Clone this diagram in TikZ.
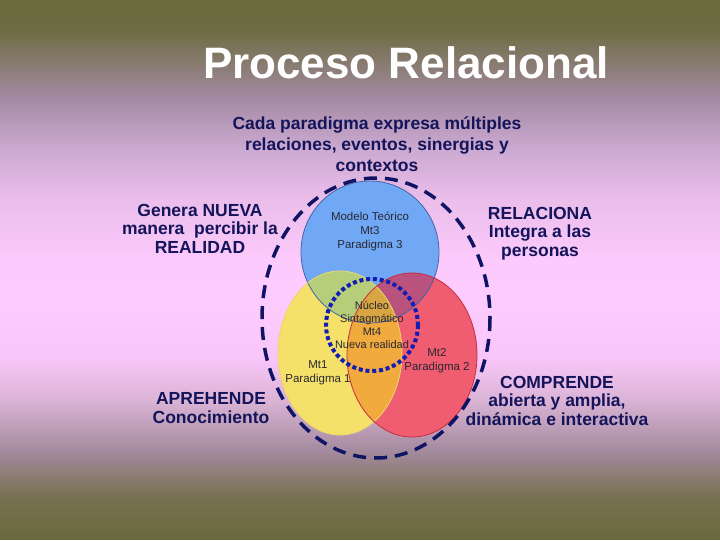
\documentclass[tikz,border=0pt]{standalone}
\usepackage{fontspec}
\setmainfont{Liberation Sans}
\definecolor{navytext}{RGB}{20,20,90}
\definecolor{venntext}{RGB}{40,40,50}
\definecolor{cblue}{RGB}{112,168,245}
\definecolor{cyellow}{RGB}{245,225,105}
\definecolor{cred}{RGB}{240,92,112}
\definecolor{cgreen}{RGB}{182,205,122}
\definecolor{cpurple}{RGB}{185,82,125}
\definecolor{corange}{RGB}{240,170,62}
\definecolor{ccenter}{RGB}{215,165,65}
\definecolor{lblue}{RGB}{70,100,165}
\definecolor{lyellow}{RGB}{235,215,110}
\definecolor{lred}{RGB}{200,45,65}
\definecolor{dotblue}{RGB}{20,30,180}
\definecolor{dashnavy}{RGB}{15,20,100}
\tikzset{
  titletext/.style={text=white,font=\fontsize{44}{48}\selectfont\bfseries,inner sep=0pt},
  outertext/.style={text=navytext,font=\fontsize{17.5}{18.5}\selectfont\bfseries,align=center,inner sep=0pt},
  subtext/.style={text=navytext,font=\fontsize{17.5}{21}\selectfont\bfseries,align=center,inner sep=0pt},
  venn/.style={text=venntext,font=\fontsize{11.5}{14}\selectfont,align=center,inner sep=0pt},
  vennsmall/.style={text=venntext,font=\fontsize{11}{12.8}\selectfont,align=center,inner sep=0pt},
}
\begin{document}
\begin{tikzpicture}[x=1pt,y=-1pt]
% background gradient (piecewise linear, in strips)
\foreach \ya/\ra/\ga/\ba/\yb/\rb/\gb/\bb in {
  0/107/107/62/30/110/108/66,
  30/110/108/66/100/165/140/165,
  100/165/140/165/150/205/170/210,
  150/205/170/210/200/235/190/235,
  200/235/190/235/260/252/202/252,
  260/252/202/252/300/255/204/255,
  300/255/204/255/360/248/198/248,
  360/248/198/248/400/220/180/215,
  400/220/180/215/450/165/140/160,
  450/165/140/160/500/118/112/78,
  500/118/112/78/540/107/107/62}{
  \pgfmathtruncatemacro{\nst}{(\yb-\ya)/2-1}
  \foreach \k in {0,...,\nst}{
    \pgfmathsetmacro{\tt}{(\k*2+1)/(\yb-\ya)}
    \pgfmathtruncatemacro{\colR}{\ra+(\rb-\ra)*\tt}
    \pgfmathtruncatemacro{\colG}{\ga+(\gb-\ga)*\tt}
    \pgfmathtruncatemacro{\colB}{\ba+(\bb-\ba)*\tt}
    \definecolor{bgstrip}{RGB}{\colR,\colG,\colB}
    \fill[bgstrip] (0,\ya+\k*2) rectangle (720,\ya+\k*2+2.4);
  }
}
\useasboundingbox (0,0) rectangle (720,540);
% base fills
\fill[cblue] (370,252) ellipse [x radius=69, y radius=71];
\fill[cyellow] (340,353) ellipse [x radius=62, y radius=82];
\fill[cred] (412,355) ellipse [x radius=65, y radius=82];
% overlaps
\begin{scope}
  \clip (340,353) ellipse [x radius=62, y radius=82];
  \fill[cgreen] (370,252) ellipse [x radius=69, y radius=71];
\end{scope}
\begin{scope}
  \clip (412,355) ellipse [x radius=65, y radius=82];
  \fill[cpurple] (370,252) ellipse [x radius=69, y radius=71];
\end{scope}
\begin{scope}
  \clip (340,353) ellipse [x radius=62, y radius=82];
  \clip (412,355) ellipse [x radius=65, y radius=82];
  \fill[corange] (250,250) rectangle (500,450);
  \clip (370,252) ellipse [x radius=69, y radius=71];
  \fill[ccenter] (250,150) rectangle (500,450);
\end{scope}
% outlines
\draw[lblue, line width=0.8pt] (370,252) ellipse [x radius=69, y radius=71];
\draw[lyellow, line width=0.8pt] (340,353) ellipse [x radius=62, y radius=82];
\draw[lred, line width=0.8pt] (412,355) ellipse [x radius=65, y radius=82];
% dotted and dashed
\draw[dotblue, line width=4pt, dash pattern=on 4pt off 2.8pt] (372,325) circle [radius=46];
\draw[dashnavy, line width=3.5pt, dash pattern=on 13pt off 8pt] (376,318) ellipse [x radius=114, y radius=140];
% texts (anchor=base is the baseline of the last line)
\node[titletext, anchor=base] (title) at (406,78) {Proceso Relacional};
\node[subtext, anchor=base] (sub) at (377,171) {Cada paradigma expresa múltiples\\relaciones, eventos, sinergias y\\contextos};
\node[outertext, anchor=base] (genera) at (200,253) {Genera NUEVA\\manera \ percibir la\\REALIDAD};
\node[outertext, anchor=base] (relaciona) at (540,256) {RELACIONA\\Integra a las\\personas};
\node[outertext, anchor=base] (aprehende) at (211,423) {APREHENDE\\Conocimiento};
\node[outertext, anchor=base] (comprende) at (557,425) {COMPRENDE\\abierta y amplia,\\dinámica e interactiva};
\node[venn, anchor=base] (mt3) at (370,248) {Modelo Teórico\\Mt3\\Paradigma 3};
\node[vennsmall, anchor=base] (mt4) at (372,348) {Núcleo\\Sintagmático\\Mt4\\Nueva realidad};
\node[venn, anchor=base] (mt1) at (318,382) {Mt1\\Paradigma 1};
\node[venn, anchor=base] (mt2) at (437,370) {Mt2\\Paradigma 2};
\end{tikzpicture}
\end{document}
